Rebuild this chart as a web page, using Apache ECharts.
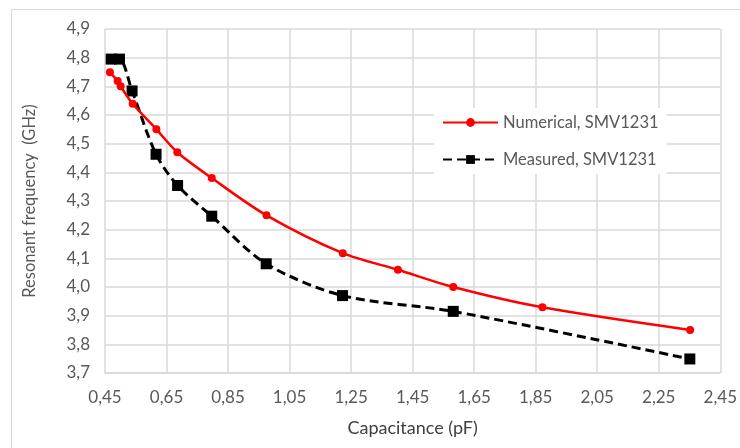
<!DOCTYPE html>
<html>
<head>
<meta charset="utf-8">
<script src="https://cdn.jsdelivr.net/npm/echarts@6/dist/echarts.min.js"></script>
<style>html,body{margin:0;padding:0;background:#fff;}#c{width:740px;height:448px;}</style>
</head>
<body>
<div id="c"></div>
<script>
const numericalC = [0.466, 0.491, 0.501, 0.540, 0.617, 0.685, 0.797, 0.975, 1.223, 1.402, 1.582, 1.872, 2.352];
const numericalF = [4.749, 4.719, 4.700, 4.639, 4.550, 4.470, 4.380, 4.250, 4.118, 4.060, 4.000, 3.929, 3.850];
const measuredC = [0.470, 0.497, 0.538, 0.616, 0.686, 0.797, 0.974, 1.222, 1.582, 2.351];
const measuredF = [4.795, 4.795, 4.684, 4.463, 4.354, 4.247, 4.081, 3.970, 3.915, 3.749];
const seriesNames = ['Numerical, SMV1231', 'Measured, SMV1231'];
const xTitle = 'Capacitance (pF)';
const yTitle = 'Resonant frequency  (GHz)';

const pairs = (xs, ys) => xs.map((x, i) => [x, ys[i]]);
const comma2 = v => v.toFixed(2).replace('.', ',');
const comma1 = v => v.toFixed(1).replace('.', ',');
const FONT = 'Lato';
const chart = echarts.init(document.getElementById('c'));
chart.setOption({
  animation: false,
  backgroundColor: '#fff',
  graphic: [{
    type: 'rect', left: 11, top: 9, z: -10,
    shape: { width: 760, height: 460 },
    style: { fill: '#fff', stroke: '#d9d9d9', lineWidth: 1 }
  }],
  grid: { left: 105, right: 17, top: 29, bottom: 75 },
  legend: {
    orient: 'vertical', left: 434, top: 108,
    itemWidth: 55, itemHeight: 11, itemGap: 20,
    backgroundColor: '#fff', padding: [6, 8, 6, 8],
    textStyle: { fontFamily: FONT, fontSize: 16.5, color: '#595959' },
    data: seriesNames
  },
  xAxis: {
    type: 'value', min: 0.45, max: 2.45, interval: 0.2,
    name: xTitle, nameLocation: 'middle', nameGap: 46,
    nameTextStyle: { fontFamily: FONT, fontSize: 18, color: '#404040' },
    axisLine: { show: true, lineStyle: { color: '#d9d9d9', width: 1.5 } },
    axisTick: { show: false },
    axisLabel: { fontFamily: FONT, fontSize: 17, color: '#595959', margin: 16, formatter: v => comma2(v) },
    splitLine: { show: true, lineStyle: { color: '#d9d9d9', width: 1.5 } }
  },
  yAxis: {
    type: 'value', min: 3.7, max: 4.9, interval: 0.1,
    name: yTitle, nameLocation: 'middle', nameGap: 67,
    nameTextStyle: { fontFamily: FONT, fontSize: 16.5, color: '#595959' },
    axisLine: { show: false },
    axisTick: { show: false },
    axisLabel: { fontFamily: FONT, fontSize: 17, color: '#595959', margin: 15, formatter: v => comma1(v) },
    splitLine: { show: true, lineStyle: { color: '#d9d9d9', width: 1.5 } }
  },
  series: [
    {
      name: seriesNames[0], type: 'line', smooth: 0.3,
      data: pairs(numericalC, numericalF),
      symbol: 'circle', symbolSize: 8,
      itemStyle: { color: '#ff0000' },
      lineStyle: { color: '#ff0000', width: 2.5 },
      z: 3
    },
    {
      name: seriesNames[1], type: 'line', smooth: 0.3,
      data: pairs(measuredC, measuredF),
      symbol: 'rect', symbolSize: 11,
      itemStyle: { color: '#000' },
      lineStyle: { color: '#000', width: 3, type: [9, 5] },
      z: 2
    }
  ]
});
</script>
</body>
</html>
